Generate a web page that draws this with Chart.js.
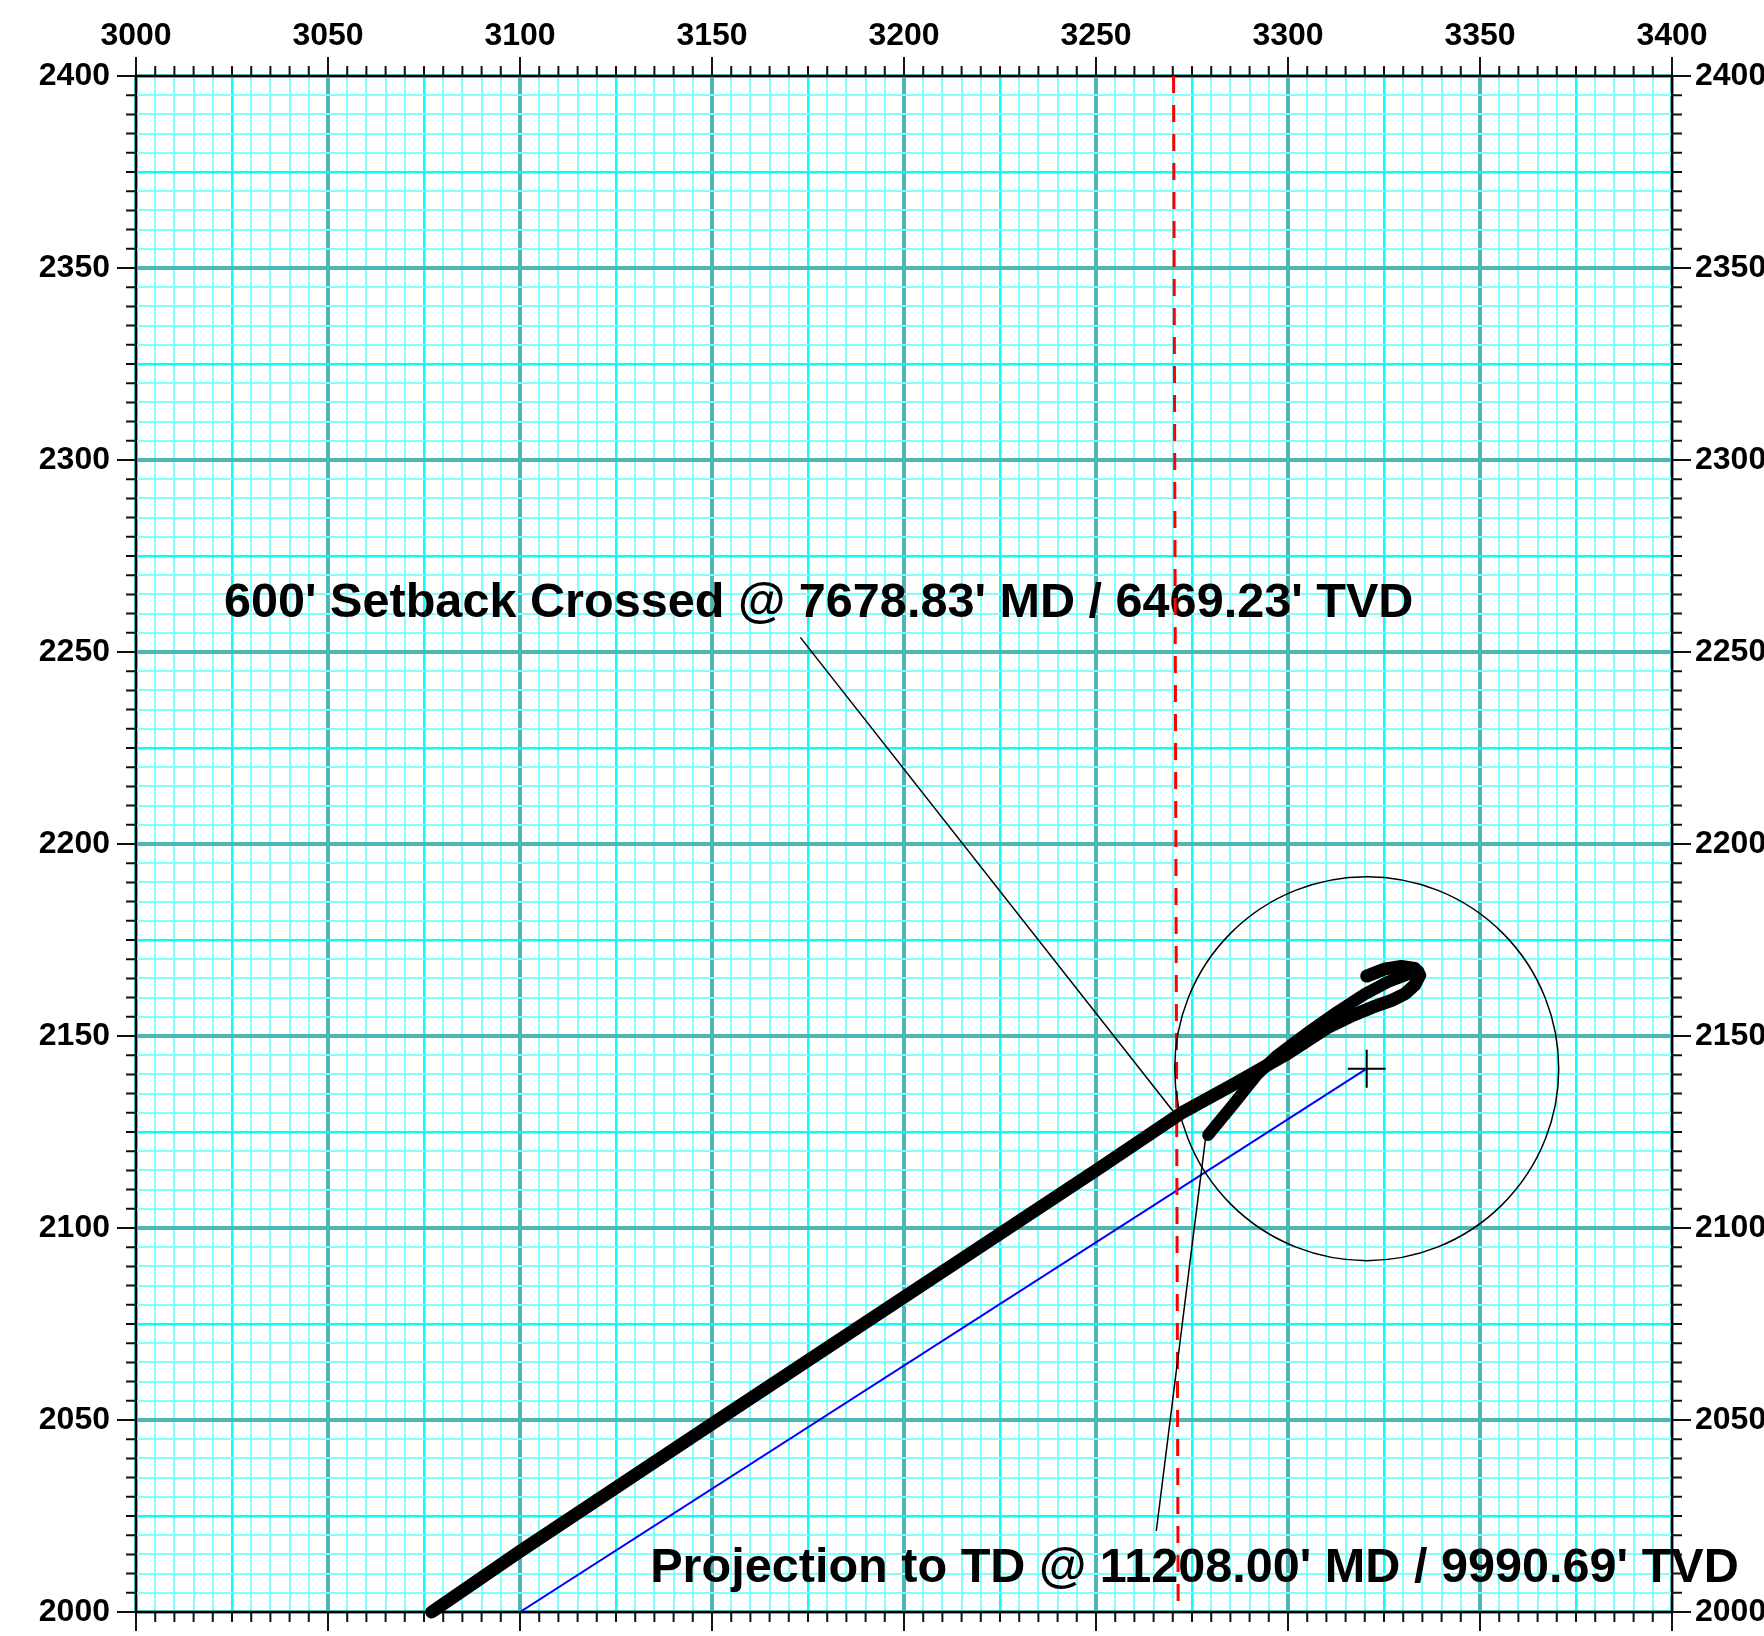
<!DOCTYPE html>
<html>
<head>
<meta charset="utf-8">
<script src="https://cdn.jsdelivr.net/npm/chart.js@4.4.1/dist/chart.umd.min.js"></script>
<style>
  html, body { margin: 0; padding: 0; background: #fff; }
</style>
</head>
<body>
<canvas id="plot" width="1764" height="1636"></canvas>
<script>
// plan view: easting on x, northing on y
const eastRange = [3000, 3400];
const northRange = [2000, 2400];

// main well path, start at bottom, ends in the curl
const wellEast  = [3077, 3100, 3150, 3200, 3250, 3272, 3286, 3300, 3310.5, 3316, 3322, 3327, 3330.5, 3333, 3334.3, 3333, 3329.5, 3325, 3320.5];
const wellNorth = [2000, 2015.8, 2049, 2082, 2115, 2129.8, 2137.5, 2145.5, 2152.3, 2155, 2157.5, 2159.3, 2161, 2163.3, 2165.8, 2167.6, 2168.1, 2167.4, 2165.6];

// second stroke from the curl back down to TD
const tdEast  = [3279.2, 3286, 3291.8, 3297, 3305, 3313, 3320, 3326, 3331, 3334];
const tdNorth = [2124.2, 2132.5, 2139.8, 2144.8, 2150.8, 2156.4, 2160.9, 2164.1, 2166, 2166.8];

// straight projection line to target
const projEast  = [3100, 3320.5];
const projNorth = [2000, 2141.5];

// 600' setback line
const setbackEast  = [3270.2, 3271.4];
const setbackNorth = [2400, 2000];

// target centre and radius
const targetEast = [3320.5];
const targetNorth = [2141.5];
const targetRadius = 50;

// label leader lines
const leaderAEast  = [3173.0, 3270.7];
const leaderANorth = [2253.8, 2129.6];
const leaderBEast  = [3265.7, 3278.6];
const leaderBNorth = [2021.1, 2124.0];

const notes = [
  { text: "600' Setback Crossed @ 7678.83' MD / 6469.23' TVD", x: 3022.9, y: 2259.1 },
  { text: "Projection to TD @ 11208.00' MD / 9990.69' TVD", x: 3133.9, y: 2007.8 }
];

const pts = (xs, ys) => xs.map((v, i) => ({ x: v, y: ys[i] }));

const FONT = "'Liberation Sans', Arial, sans-serif";
const MINOR = 5, MAJOR = 50, MID = 25;

function gridColor(c) {
  const v = Math.round(c.tick.value);
  if (v % MAJOR === 0) return '#4db6b6';
  if (v % MID === 0) return '#00ffff';
  return '#80ffff';
}
function gridWidth(c) {
  const v = Math.round(c.tick.value);
  if (v % MAJOR === 0) return 4;
  if (v % MID === 0) return 2.5;
  return 2;
}
const tickFont = { family: FONT, size: 32, weight: 'bold' };
const showMajor = v => (Math.round(v) % MAJOR === 0 ? String(v) : '');

// fixed box sizes so the plot area lands where the original one is
function fixW(w) {
  return s => { s.width = w; s.paddingTop = 0; s.paddingBottom = 0; };
}
function fixH(h) {
  return s => { s.height = h; s.paddingLeft = 0; s.paddingRight = 0; };
}

const frameTicks = {
  id: 'frameTicks',
  beforeDatasetsDraw(chart) {
    const { ctx, scales: { x, y } } = chart;
    ctx.save();
    ctx.fillStyle = '#000';
    ctx.font = 'bold 48.6px ' + FONT;
    ctx.textBaseline = 'alphabetic';
    ctx.textAlign = 'left';
    notes.forEach(n => ctx.fillText(n.text, x.getPixelForValue(n.x), y.getPixelForValue(n.y)));
    ctx.restore();
  },
  afterDraw(chart) {
    const { ctx, chartArea: a, scales: { x, y } } = chart;
    ctx.save();
    ctx.strokeStyle = '#111';
    ctx.lineWidth = 2;
    ctx.beginPath();
    for (let v = eastRange[0]; v <= eastRange[1]; v += MINOR) {
      const p = x.getPixelForValue(v);
      const len = v % MAJOR === 0 ? 19 : 10;
      ctx.moveTo(p, a.top); ctx.lineTo(p, a.top - len);
      ctx.moveTo(p, a.bottom); ctx.lineTo(p, a.bottom + len);
    }
    for (let v = northRange[0]; v <= northRange[1]; v += MINOR) {
      const p = y.getPixelForValue(v);
      const len = v % MAJOR === 0 ? 19 : 10;
      ctx.moveTo(a.left, p); ctx.lineTo(a.left - len, p);
      ctx.moveTo(a.right, p); ctx.lineTo(a.right + len, p);
    }
    ctx.stroke();
    ctx.restore();
  }
};

new Chart(document.getElementById('plot'), {
  type: 'scatter',
  data: {
    datasets: [
      { data: pts(wellEast, wellNorth), showLine: true, borderColor: '#000', borderWidth: 13,
        borderCapStyle: 'round', borderJoinStyle: 'round', pointRadius: 0, clip: false },
      { data: pts(tdEast, tdNorth), showLine: true, borderColor: '#000', borderWidth: 12,
        borderCapStyle: 'round', borderJoinStyle: 'round', pointRadius: 0 },
      { data: pts(leaderAEast, leaderANorth), showLine: true, borderColor: '#000', borderWidth: 1.5, pointRadius: 0 },
      { data: pts(leaderBEast, leaderBNorth), showLine: true, borderColor: '#000', borderWidth: 1.5, pointRadius: 0 },
      { data: pts(targetEast, targetNorth), pointStyle: 'cross', pointRadius: 19, borderColor: '#000',
        borderWidth: 2, backgroundColor: '#000' },
      { data: pts(targetEast, targetNorth), pointStyle: 'circle', borderColor: '#000', borderWidth: 1.5,
        backgroundColor: 'rgba(0,0,0,0)',
        pointRadius: c => {
          const s = c.chart.scales.x;
          return Math.abs(s.getPixelForValue(targetEast[0] + targetRadius) - s.getPixelForValue(targetEast[0]));
        } },
      { data: pts(setbackEast, setbackNorth), showLine: true, borderColor: '#ff0000', borderWidth: 3,
        borderDash: [17, 12], pointRadius: 0 },
      { data: pts(projEast, projNorth), showLine: true, borderColor: '#0000ff', borderWidth: 2, pointRadius: 0 }
    ]
  },
  options: {
    responsive: false,
    animation: false,
    devicePixelRatio: 1,
    layout: { padding: 0 },
    plugins: { legend: { display: false }, tooltip: { enabled: false } },
    scales: {
      x: {
        type: 'linear', position: 'top', min: eastRange[0], max: eastRange[1],
        afterFit: fixH(76),
        ticks: { stepSize: MINOR, autoSkip: false, maxRotation: 0, padding: 21, color: '#000', font: tickFont, callback: showMajor },
        grid: { drawTicks: false, color: gridColor, lineWidth: gridWidth },
        border: { color: '#000', width: 2 }
      },
      x2: {
        type: 'linear', position: 'bottom', min: eastRange[0], max: eastRange[1],
        afterFit: fixH(24),
        ticks: { display: false },
        grid: { drawTicks: false, drawOnChartArea: false },
        border: { color: '#000', width: 2 }
      },
      y: {
        type: 'linear', position: 'left', min: northRange[0], max: northRange[1],
        afterFit: fixW(136),
        ticks: { stepSize: MINOR, autoSkip: false, padding: 26, color: '#000', font: tickFont, callback: showMajor },
        grid: { drawTicks: false, color: gridColor, lineWidth: gridWidth },
        border: { color: '#000', width: 2 }
      },
      y2: {
        type: 'linear', position: 'right', min: northRange[0], max: northRange[1],
        afterFit: fixW(92),
        ticks: { stepSize: MINOR, autoSkip: false, padding: 23, color: '#000', font: tickFont, callback: showMajor },
        grid: { drawTicks: false, drawOnChartArea: false },
        border: { color: '#000', width: 2 }
      }
    }
  },
  plugins: [frameTicks]
});
</script>
</body>
</html>
